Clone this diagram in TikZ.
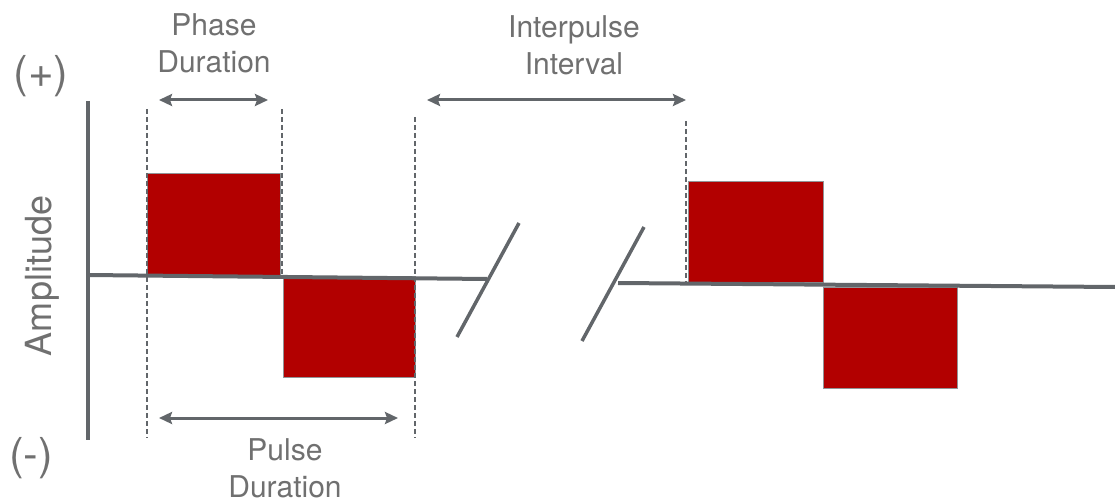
\documentclass[tikz,border=0pt]{standalone}
\usepackage{fontspec}
\setmainfont{TeX Gyre Heros}
\usetikzlibrary{arrows.meta}
\definecolor{axisgray}{HTML}{62666A}
\definecolor{textgray}{HTML}{707070}
\definecolor{pulsered}{HTML}{B20000}
\tikzset{
  axisline/.style={draw=axisgray, line width=4pt},
  guide/.style={draw=axisgray, line width=1.8pt, dash pattern=on 5pt off 3pt},
  span/.style={draw=axisgray, line width=3pt, {Stealth[length=13pt,width=12pt,inset=2pt]}-{Stealth[length=13pt,width=12pt,inset=2pt]}},
  phase/.style={fill=pulsered, draw=axisgray!70, line width=1pt},
  lbl/.style={text=textgray, font=\fontsize{30}{37}\selectfont, align=center, inner sep=0pt},
  sign/.style={text=textgray, font=\fontsize{44}{48}\selectfont, inner sep=0pt},
}
\begin{document}
\begin{tikzpicture}[x=1pt, y=-1pt]
\useasboundingbox (0,0) rectangle (1115,502);

% pulse phases
\draw[phase] (147,174) rectangle (280,276);
\draw[phase] (283,277) rectangle (415,377);
\draw[phase] (688,182) rectangle (823,283);
\draw[phase] (823,288) rectangle (957,388);

% baseline, broken in the middle
\coordinate (b0) at (88,275);
\coordinate (b1) at (487,279);
\coordinate (b2) at (618,283);
\coordinate (b3) at (1115,287);
\draw[axisline] (b0) -- (b1);
\draw[axisline] (b2) -- (b3);

% break marks
\coordinate (s1a) at (457,337); \coordinate (s1b) at (519,223);
\coordinate (s2a) at (582,341); \coordinate (s2b) at (644,227);
\draw[axisline, line width=3.5pt] (s1a) -- (s1b);
\draw[axisline, line width=3.5pt] (s2a) -- (s2b);

% amplitude axis
\coordinate (ytop) at (88,101);
\coordinate (ybot) at (88,440);
\draw[axisline] (ytop) -- (ybot);

% guide lines
\coordinate (g1t) at (147,109); \coordinate (g1b) at (147,438);
\coordinate (g2t) at (282,109); \coordinate (g2b) at (282,276);
\coordinate (g3t) at (415,117); \coordinate (g3b) at (415,438);
\coordinate (g4t) at (686,121); \coordinate (g4b) at (686,283);
\draw[guide] (g1t) -- (g1b);
\draw[guide] (g2t) -- (g2b);
\draw[guide] (g3t) -- (g3b);
\draw[guide] (g4t) -- (g4b);

% spans
\coordinate (p1) at (159,100); \coordinate (p2) at (268,100);
\coordinate (i1) at (427,100); \coordinate (i2) at (686,100);
\coordinate (d1) at (159,418); \coordinate (d2) at (398,418);
\draw[span] (p1) -- (p2);
\draw[span] (i1) -- (i2);
\draw[span] (d1) -- (d2);

% labels
\node[lbl] (phaselbl) at (214,43.5) {Phase\\Duration};
\node[lbl] (intlbl) at (574,45) {Interpulse\\Interval};
\node[lbl] (pulselbl) at (285,468.5) {Pulse\\Duration};
\node[lbl, font=\fontsize{36}{40}\selectfont, rotate=90] (amplbl) at (42,276) {Amplitude};
\node[sign] (plus) at (41,76) {(+)};
\node[sign] (minus) at (31,458) {(-)};
\end{tikzpicture}
\end{document}
